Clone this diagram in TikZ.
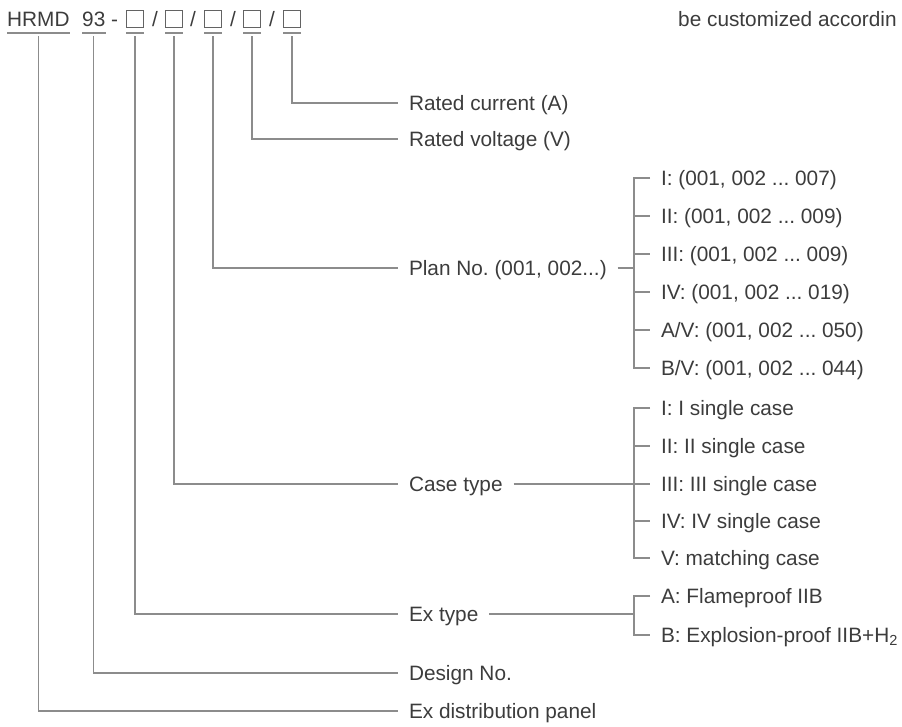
\documentclass[tikz,border=0pt]{standalone}
\usepackage{fontspec}
\setmainfont{Liberation Sans}
\usetikzlibrary{positioning}
\definecolor{ink}{HTML}{3C3C3C}
\definecolor{wirecol}{HTML}{8C8C8C}
\frenchspacing

\begin{document}
\begin{tikzpicture}[
  x=1pt, y=-1pt,
  txt/.style={inner sep=0pt, text=ink, font=\fontsize{20.8}{24}\selectfont, text height=14.9pt, text depth=0pt},
  code/.style={txt, anchor=west},
  sq/.style={draw=ink!80, line width=1pt, minimum size=17pt, inner sep=0pt},
  lbl/.style={txt, anchor=west, outer xsep=11pt},
  wire/.style={draw=wirecol, line width=1.2pt}
]
\useasboundingbox (0,0) rectangle (902,726);
\coordinate (ul) at (0,33);
\coordinate (top) at (0,36);
\coordinate (brk) at (634,0);

% type code
\node[code] (hrmd) at (7,19) {HRMD};
\node[code] (dsn) at (82,19) {93};
\node[code] (dash) at (111,19) {-};
\node[sq] (s1) at (135,18.5) {};
\node[code] (sl1) at (152,19) {/};
\node[sq] (s2) at (174,18.5) {};
\node[code] (sl2) at (190,19) {/};
\node[sq] (s3) at (213,18.5) {};
\node[code] (sl3) at (230,19) {/};
\node[sq] (s4) at (252,18.5) {};
\node[code] (sl4) at (269,19) {/};
\node[sq] (s5) at (292,18.5) {};
\node[code] (note) at (678,19) {be customized accordin};

% meaning of each field
\node[lbl] (cur) at (398,103) {Rated current (A)};
\node[lbl] (vol) at (398,139) {Rated voltage (V)};
\node[lbl] (plan) at (398,268) {Plan No. (001, 002...)};
\node[lbl] (case) at (398,484) {Case type};
\node[lbl] (ex) at (398,614) {Ex type};
\node[lbl] (dsgn) at (398,673) {Design No.};
\node[lbl] (panel) at (398,711) {Ex distribution panel};

% options
\node[lbl] (p1) at (650,178) {I: (001, 002 ... 007)};
\node[lbl] (p2) at (650,216) {II: (001, 002 ... 009)};
\node[lbl] (p3) at (650,254) {III: (001, 002 ... 009)};
\node[lbl] (p4) at (650,292) {IV: (001, 002 ... 019)};
\node[lbl] (p5) at (650,330) {A/V: (001, 002 ... 050)};
\node[lbl] (p6) at (650,368) {B/V: (001, 002 ... 044)};
\node[lbl] (c1) at (650,408) {I: I single case};
\node[lbl] (c2) at (650,446) {II: II single case};
\node[lbl] (c3) at (650,484) {III: III single case};
\node[lbl] (c4) at (650,521) {IV: IV single case};
\node[lbl] (c5) at (650,558) {V: matching case};
\node[lbl] (e1) at (650,596) {A: Flameproof IIB};
\node[lbl] (e2) at (650,635) {B: Explosion-proof IIB+H\textsubscript{2}};

% underlines
\foreach \n in {hrmd,dsn,s1,s2,s3,s4,s5}
  \draw[wire] (\n.west |- ul) -- (\n.east |- ul);

% leaders
\draw[wire] (hrmd |- top) |- (panel.west);
\draw[wire] (dsn |- top) |- (dsgn.west);
\draw[wire] (s1 |- top) |- (ex.west);
\draw[wire] (s2 |- top) |- (case.west);
\draw[wire] (s3 |- top) |- (plan.west);
\draw[wire] (s4 |- top) |- (vol.west);
\draw[wire] (s5 |- top) |- (cur.west);

% brackets
\draw[wire] (plan.east) -- (brk |- plan);
\draw[wire] (case.east) -- (brk |- case);
\draw[wire] (ex.east) -- (brk |- ex);
\draw[wire] (p1.west) -| (brk |- p6) -- (p6.west);
\draw[wire] (c1.west) -| (brk |- c5) -- (c5.west);
\draw[wire] (e1.west) -| (brk |- e2) -- (e2.west);
\foreach \n in {p2,p3,p4,p5,c2,c3,c4}
  \draw[wire] (brk |- \n) -- (\n.west);
\end{tikzpicture}
\end{document}
